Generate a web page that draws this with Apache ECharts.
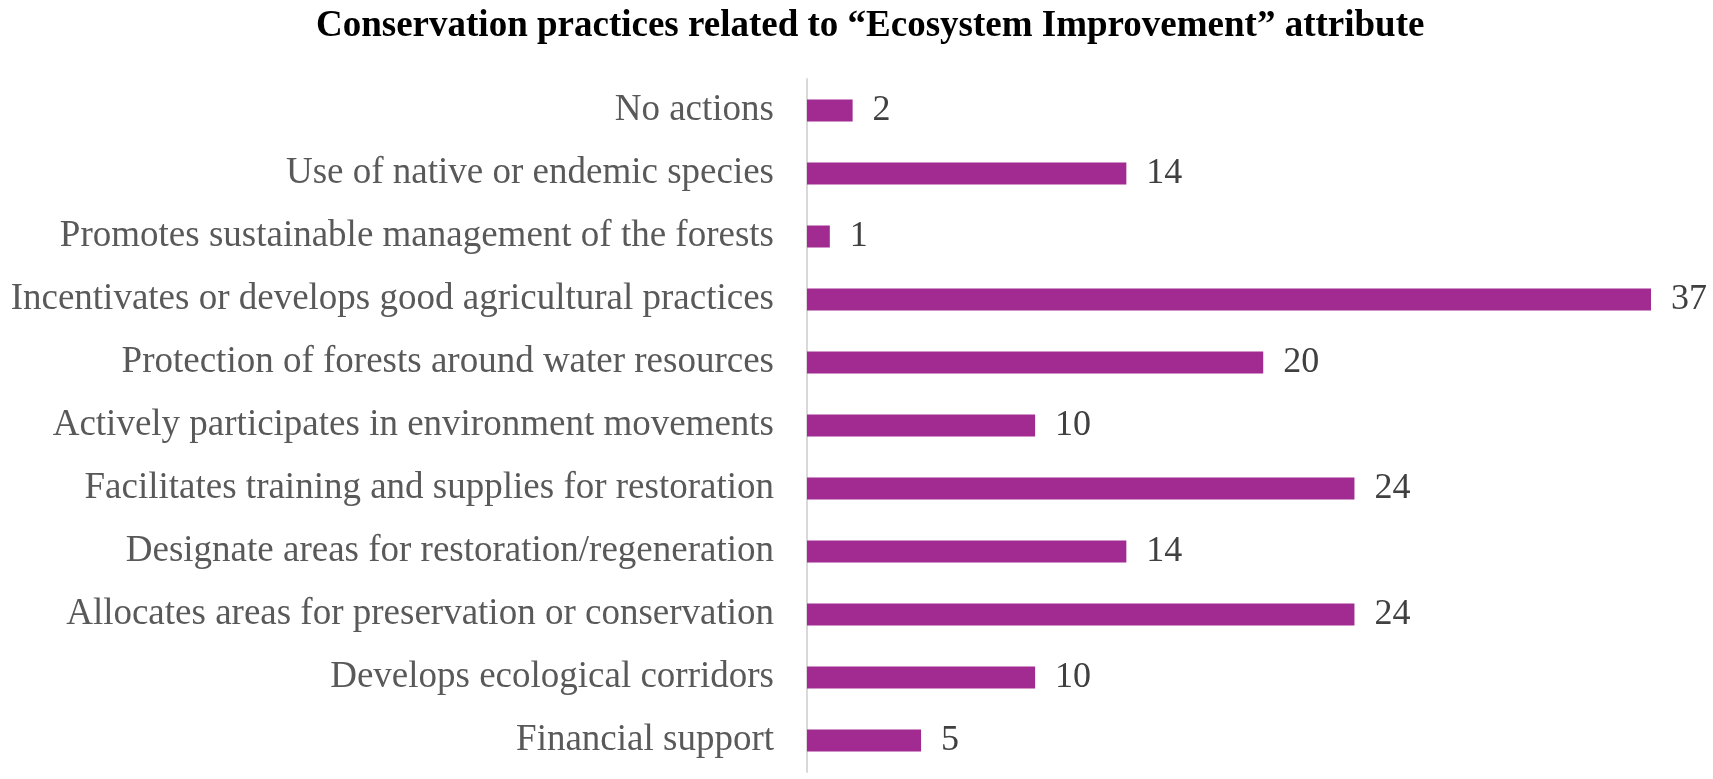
<!DOCTYPE html>
<html>
<head>
<meta charset="utf-8">
<script src="https://cdn.jsdelivr.net/npm/echarts@6/dist/echarts.min.js"></script>
<style>
  html, body { margin: 0; padding: 0; background: #fff; }
  #main { width: 1713px; height: 779px; }
</style>
</head>
<body>
<div id="main"></div>
<script>
var practices = [
    'No actions',
    'Use of native or endemic species',
    'Promotes sustainable management of the forests',
    'Incentivates or develops good agricultural practices',
    'Protection of forests around water resources',
    'Actively participates in environment movements',
    'Facilitates training and supplies for restoration',
    'Designate areas for restoration/regeneration',
    'Allocates areas for preservation or conservation',
    'Develops ecological corridors',
    'Financial support'
];
var counts = [2, 14, 1, 37, 20, 10, 24, 14, 24, 10, 5];

var chart = echarts.init(document.getElementById('main'));
var option = {
    animation: false,
    title: {
        text: 'Conservation practices related to \u201cEcosystem Improvement\u201d attribute',
        left: 311,
        top: 3,
        textStyle: {
            fontFamily: 'Liberation Serif',
            fontWeight: 'bold',
            fontSize: 37,
            color: '#000'
        }
    },
    grid: {
        left: 807,
        top: 79,
        width: 844,
        height: 693
    },
    xAxis: {
        type: 'value',
        min: 0,
        max: 37,
        show: false
    },
    yAxis: {
        type: 'category',
        inverse: true,
        data: practices,
        axisLine: { show: true, lineStyle: { color: '#d9d9d9', width: 2 } },
        axisTick: { show: false },
        axisLabel: {
            margin: 33,
            fontFamily: 'Liberation Serif',
            fontSize: 37,
            color: '#595959'
        }
    },
    series: [{
        type: 'bar',
        data: counts,
        barWidth: 22,
        itemStyle: { color: '#a22b92' },
        label: {
            show: true,
            position: 'right',
            distance: 20,
            fontFamily: 'Liberation Serif',
            fontSize: 36,
            color: '#404040'
        }
    }]
};
chart.setOption(option);
</script>
</body>
</html>
